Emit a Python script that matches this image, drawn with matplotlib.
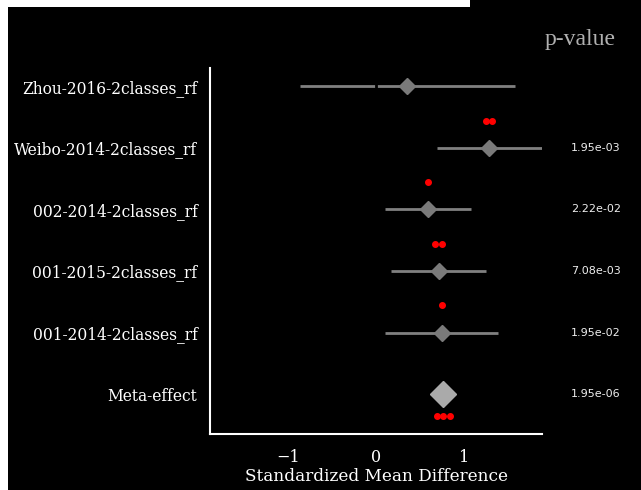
import numpy as np
import matplotlib
matplotlib.use("Agg")
import matplotlib.pyplot as plt
from matplotlib.patches import Rectangle
from matplotlib.transforms import ScaledTranslation, blended_transform_factory

# data
labels = ['Zhou-2016-2classes_rf', 'Weibo-2014-2classes_rf', '002-2014-2classes_rf',
          '001-2015-2classes_rf', '001-2014-2classes_rf', 'Meta-effect']
smd = [0.35, 1.28, 0.59, 0.71, 0.75, 0.76]
ci_low = [-0.86, 0.69, 0.10, 0.17, 0.10, 0.70]
ci_high = [1.57, 1.89, 1.07, 1.24, 1.38, 0.82]
n_stars = [0, 2, 1, 2, 1, 3]
pvals = ['', '1.95e-03', '2.22e-02', '7.08e-03', '1.95e-02', '1.95e-06']

fig = plt.figure(figsize=(6.41, 4.9), dpi=100, facecolor='black')
ax = fig.add_axes([0.3276, 0.1143, 0.5180, 0.7469])
ax.set_facecolor('black')

ypos = np.arange(len(labels))[::-1]

for i in range(len(labels)):
    y = ypos[i]
    meta = labels[i] == 'Meta-effect'
    if not meta:
        ax.plot([ci_low[i], ci_high[i]], [y, y], color='#808080', lw=2, zorder=2,
                solid_capstyle='butt')
        ax.plot(smd[i], y, marker='D', ms=8, color='#7a7a7a', zorder=4)
        sy = y + 0.44
    else:
        ax.plot(smd[i], y, marker='D', ms=13, color='#aaaaaa', zorder=4)
        sy = y - 0.36
    k = n_stars[i]
    for j in range(k):
        dx = (j - (k - 1) / 2.0) * 6.5 / 100.0
        tr = ax.transData + ScaledTranslation(dx, 0, fig.dpi_scale_trans)
        ax.plot(smd[i], sy, marker='o', ms=4, color='red', transform=tr,
                clip_on=False, zorder=5)
    if pvals[i]:
        ax.text(0.93, y, pvals[i], transform=blended_transform_factory(fig.transFigure, ax.transData),
                ha='center', va='center', color='#eeeeee', fontsize=8, family='DejaVu Sans')

# zero line in the background colour (only shows as a gap in the first CI)
ax.axvline(0, color='black', lw=2, zorder=2.2)

ax.set_xlim(-1.88, 1.88)
ax.set_ylim(-0.65, 5.3)
ax.set_yticks(ypos)
ax.set_yticklabels(labels, family='DejaVu Serif', fontsize=11.2, color='white')
ax.set_xticks([-1, 0, 1])
ax.set_xticklabels(['\u22121', '0', '1'], family='DejaVu Serif', fontsize=11.5, color='white')
ax.tick_params(axis='x', length=0, pad=11)
ax.tick_params(axis='y', length=0, pad=9)
ax.set_xlabel('Standardized Mean Difference', family='DejaVu Serif', fontsize=12.2,
              color='white', labelpad=1)
for s in ['top', 'right']:
    ax.spines[s].set_visible(False)
for s in ['left', 'bottom']:
    ax.spines[s].set_color('white')
    ax.spines[s].set_linewidth(1.5)

fig.text(0.905, 0.92, 'p-value', ha='center', va='center', color='#b0b0b0',
         fontsize=17, family='Liberation Serif')

# white margins seen on the left and top edges
fig.patches.append(Rectangle((0, 0), 8 / 641, 1, transform=fig.transFigure,
                             facecolor='white', edgecolor='none', zorder=10))
fig.patches.append(Rectangle((0, 1 - 7 / 490), 470 / 641, 7 / 490, transform=fig.transFigure,
                             facecolor='white', edgecolor='none', zorder=10))

fig.savefig('out.png', dpi=100, facecolor='black')
